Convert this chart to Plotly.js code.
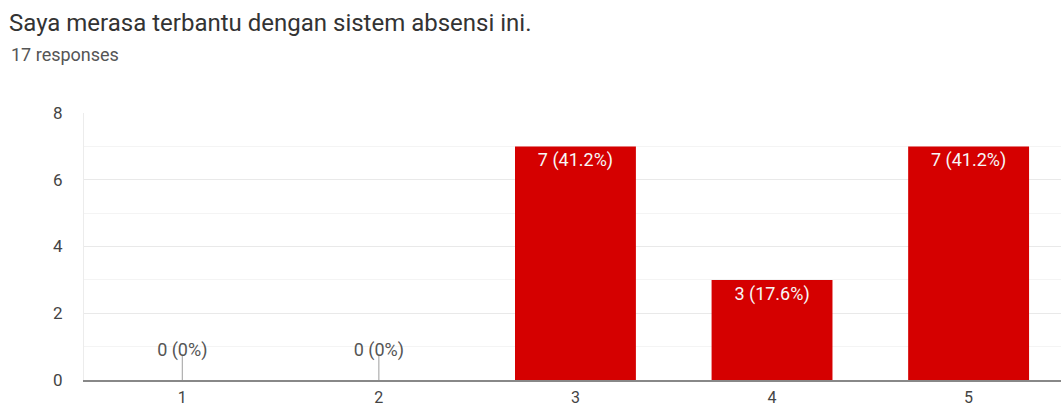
<!DOCTYPE html>
<html>
<head>
<meta charset="utf-8">
<script src="https://cdn.plot.ly/plotly-3.0.1.min.js"></script>
<style>html,body{margin:0;padding:0;background:#fff;}#chart{width:1061px;height:407px;}</style>
</head>
<body>
<div id="chart"></div>
<script>
const categories = ['1', '2', '3', '4', '5'];
const counts = [0, 0, 7, 3, 7];
const percents = ['0%', '0%', '41.2%', '17.6%', '41.2%'];
const totalResponses = 17;
const yTicks = [0, 2, 4, 6, 8];

const labels = counts.map((c, i) => c + ' (' + percents[i] + ')');
const zX = [], zY = [], zT = [];
counts.forEach((c, i) => {
  if (c === 0) { zX.push(categories[i]); zY.push(c); zT.push(labels[i]); }
});

const font = 'Roboto, Arial, sans-serif';

const traces = [
  {
    type: 'bar', x: categories, y: counts.map(c => c > 0 ? c : null),
    text: counts.map((c, i) => c > 0 ? labels[i] : ''),
    textposition: 'inside', insidetextanchor: 'end', textangle: 0,
    textfont: {family: font, size: 18, color: '#f7f7f7'},
    marker: {color: '#d50000'}, width: 0.615, hoverinfo: 'skip'
  },
  {
    type: 'scatter', mode: 'markers', x: zX, y: zY,
    cliponaxis: true,
    marker: {symbol: 'line-ns-open', size: 36, color: '#9e9e9e', line: {color: '#9e9e9e', width: 1}},
    hoverinfo: 'skip'
  },
  {
    type: 'scatter', mode: 'markers+text', x: zX, y: zY, text: zT,
    textposition: 'top center', cliponaxis: true,
    textfont: {family: font, size: 18, color: '#555555'},
    marker: {size: 29, opacity: 0, color: '#ffffff'},
    hoverinfo: 'skip'
  }
];

const layout = {
  width: 1061, height: 407,
  margin: {l: 84, r: 0, t: 113, b: 27},
  paper_bgcolor: '#ffffff', plot_bgcolor: '#ffffff',
  showlegend: false,
  font: {family: font, color: '#444444'},
  title: {
    text: 'Saya merasa terbantu dengan sistem absensi ini.',
    font: {family: font, size: 24, color: '#333333'},
    xref: 'container', yref: 'container', x: 9/1061, xanchor: 'left',
    y: 1 - 23/407, yanchor: 'middle'
  },
  annotations: [{
    text: totalResponses + ' responses', xref: 'paper', yref: 'paper',
    x: -75/977, y: 1 + 58/267, xanchor: 'left', yanchor: 'middle', showarrow: false,
    font: {family: font, size: 18, color: '#555555'}
  }],
  xaxis: {
    type: 'category', categoryorder: 'array', categoryarray: categories,
    range: [-0.5, 4.47], fixedrange: true,
    showgrid: false, zeroline: false,
    showline: true, linecolor: '#888888', linewidth: 2,
    ticks: '', ticklabelstandoff: 2,
    tickfont: {family: font, size: 16, color: '#444444'}
  },
  yaxis: {
    range: [0, 8], tickvals: yTicks, fixedrange: true,
    showgrid: true, gridcolor: '#e9e9e9', gridwidth: 1,
    minor: {dtick: 1, showgrid: true, gridcolor: '#f4f4f4', gridwidth: 1},
    zeroline: false, showline: true, linecolor: '#ececec', linewidth: 1,
    ticks: '', ticklabelstandoff: 17,
    tickfont: {family: font, size: 17, color: '#444444'}
  }
};

Plotly.newPlot('chart', traces, layout, {displayModeBar: false, staticPlot: true});
</script>
</body>
</html>
